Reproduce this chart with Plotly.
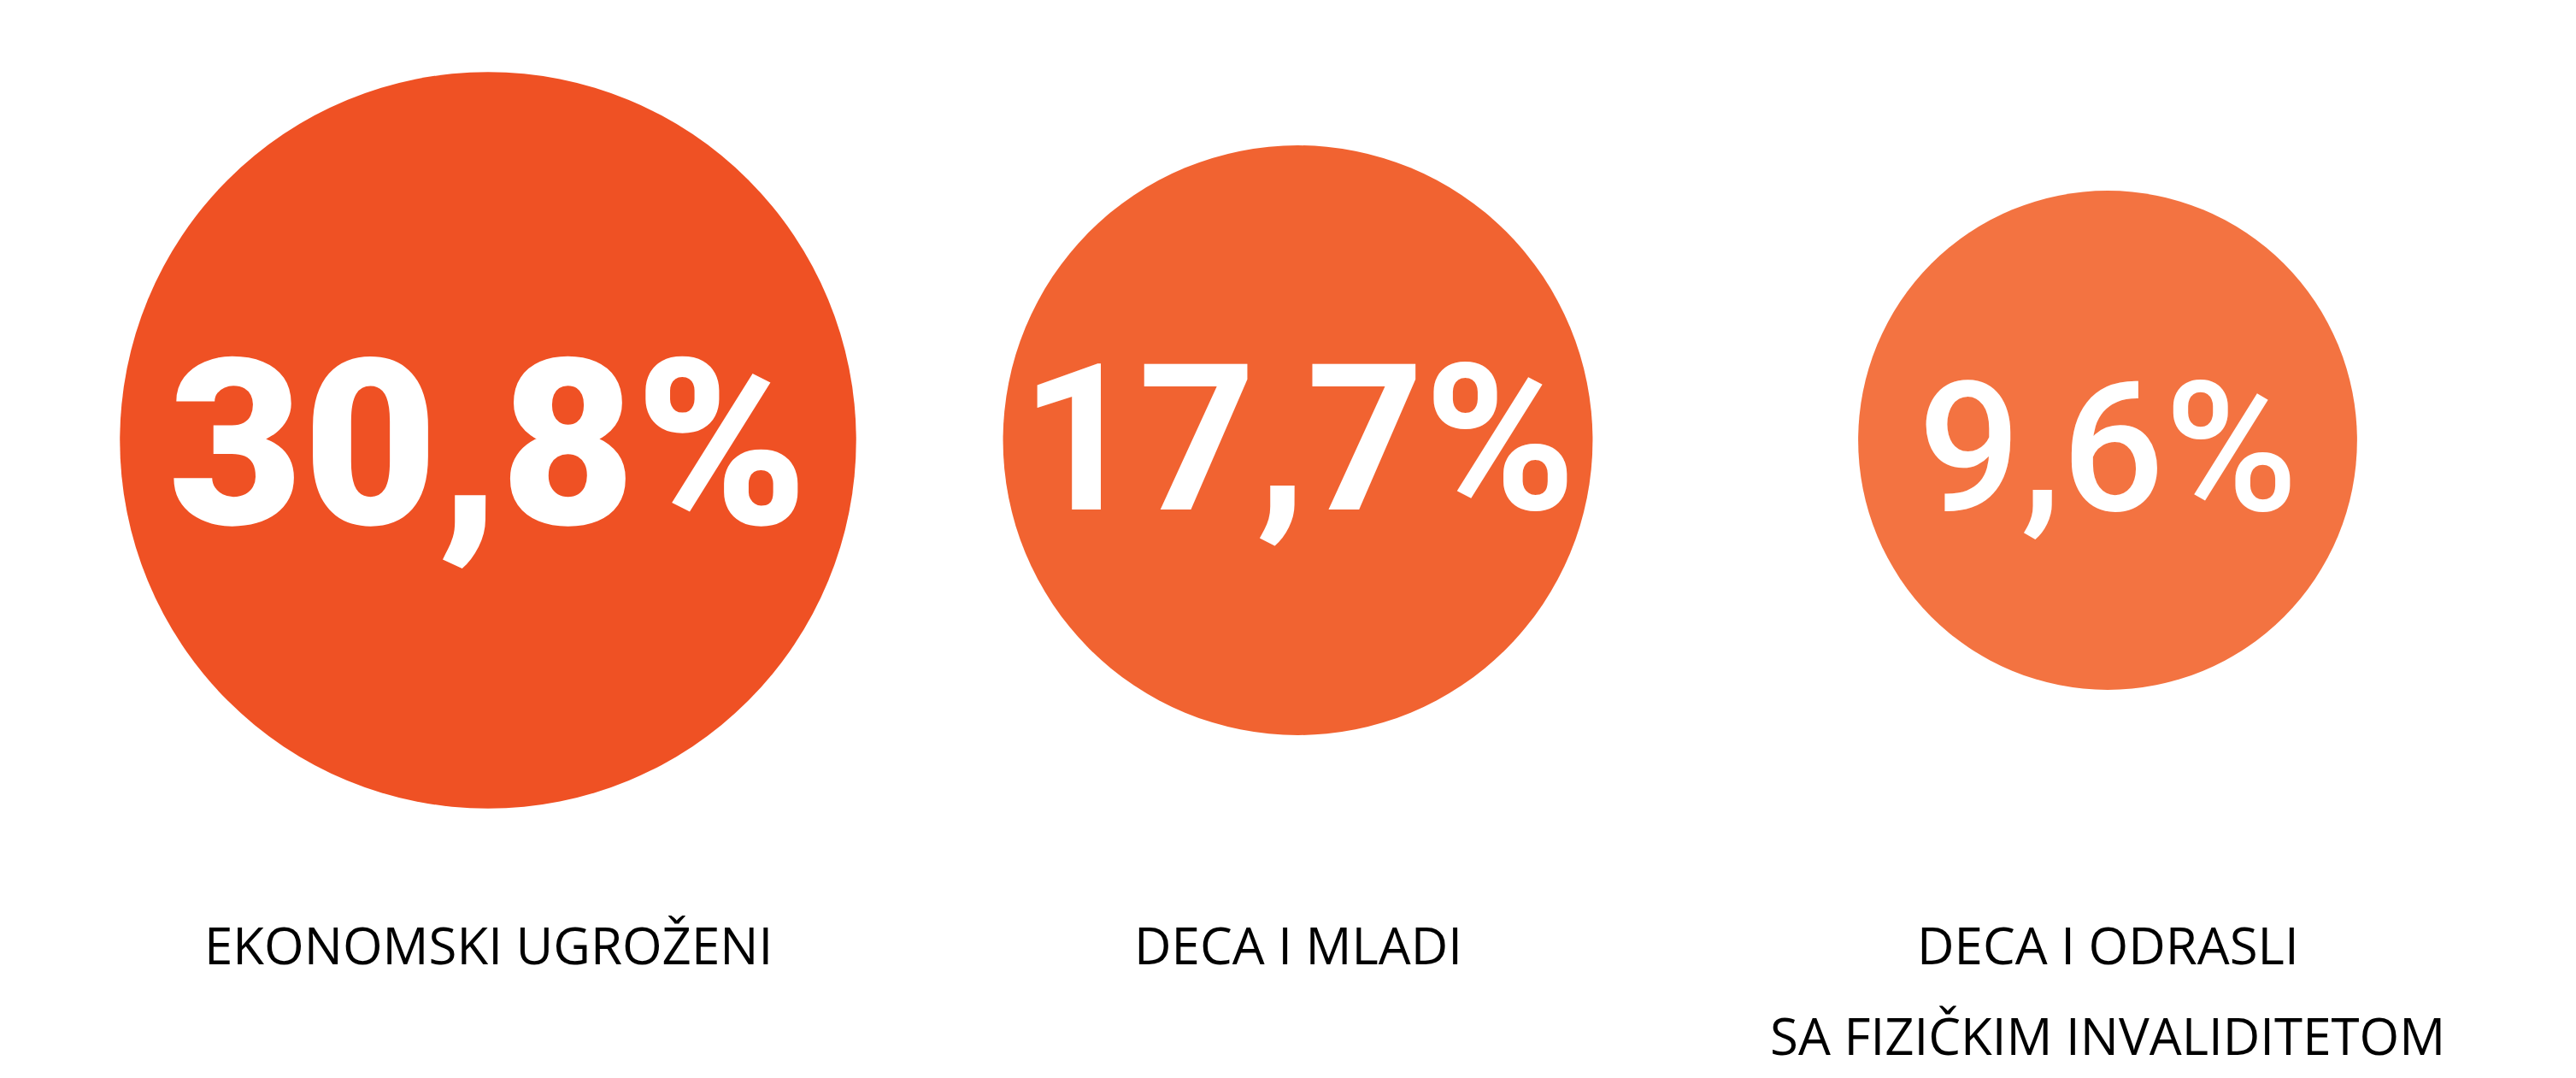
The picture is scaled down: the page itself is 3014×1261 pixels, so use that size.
import plotly.graph_objects as go

# ---- data ----
categories = ["EKONOMSKI UGROŽENI", "DECA I MLADI", "DECA I ODRASLI\nSA FIZIČKIM INVALIDITETOM"]
values = [30.8, 17.7, 9.6]

# ---- styles ----
W, H = 3014, 1261
OFF = 8  # page body margin
colors = ["#EF5124", "#F16331", "#F37341"]
num_fonts = [
    dict(family="Roboto", size=272, weight=900),
    dict(family="Roboto", size=240, weight=700),
    dict(family="Roboto", size=212, weight=500),
]
num_shift = [-5, 1, -9]

def radius(v):
    # linear size scale used for the bubbles
    return 229 + 6.55 * v

def fmt(v):
    return f"{v:.1f}".replace(".", ",") + "%"

xs = list(range(len(categories)))
fig = go.Figure()
fig.add_trace(go.Scatter(
    x=xs, y=[0] * len(xs), mode="markers",
    marker=dict(size=[2 * radius(v) for v in values], color=colors, line=dict(width=0), opacity=1),
    hoverinfo="skip", showlegend=False,
))

annotations = []
for i, (cat, v) in enumerate(zip(categories, values)):
    f = num_fonts[i]
    annotations.append(dict(
        x=i, y=0, xref="x", yref="y", text=fmt(v), showarrow=False,
        font=dict(color="white", **f), xanchor="center", yanchor="middle", yshift=num_shift[i],
    ))
    for j, line in enumerate(cat.split("\n")):
        annotations.append(dict(
            x=i, y=-590 - 106 * j, xref="x", yref="y", text=line, showarrow=False,
            font=dict(family="Open Sans", size=60, color="#000000"),
            xanchor="center", yanchor="middle",
        ))

step = 947.5
x0 = -(571 - OFF) / step
fig.update_layout(
    width=W, height=H, margin=dict(l=0, r=0, t=0, b=0),
    paper_bgcolor="white", plot_bgcolor="white",
    xaxis=dict(range=[x0, x0 + W / step], visible=False, fixedrange=True),
    yaxis=dict(range=[(515 - OFF) - H, 515 - OFF], visible=False, fixedrange=True),
    annotations=annotations, showlegend=False,
)
fig.write_html("out.html")
